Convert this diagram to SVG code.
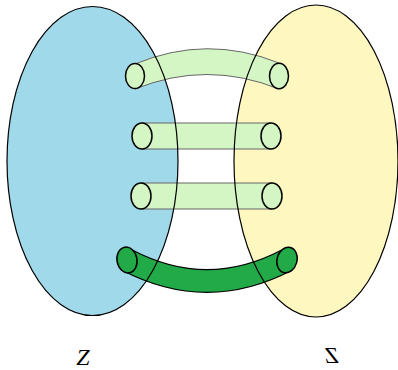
<svg xmlns="http://www.w3.org/2000/svg" width="398" height="370" viewBox="0 0 398 370">
<style>
.set-outline{fill:none;stroke:#000;stroke-width:1.2}
.lt{fill:#d4f6c4}
.ledge{fill:none;stroke:#666;stroke-width:1}
.lcap{fill:#d4f6c4;stroke:#000;stroke-width:1.5}
.dcap{fill:#22aa48;stroke:#000;stroke-width:1.5}
.lbl{font-family:"Liberation Serif","Times New Roman",serif;font-style:italic;font-size:24px;fill:#000}
</style>
<rect width="398" height="370" fill="#fff"/>
<g id="set-left-fill"><ellipse cx="92.5" cy="161" rx="85.5" ry="154.5" fill="#a0d9ea"/></g>
<g id="set-right-fill"><ellipse cx="316" cy="161" rx="82" ry="156" fill="#fff7c0"/></g>
<g id="connectors">
  <g id="tube1">
    <path class="lt" d="M135,64 Q207,34 279,63 L279,89 Q207,60 135,89 Z"/>
    <path class="ledge" d="M135,64 Q207,34 279,63"/>
    <path class="ledge" d="M135,89 Q207,60 279,89"/>
    <ellipse class="lcap" cx="135" cy="76" rx="9.5" ry="12.5"/>
    <ellipse class="lcap" cx="279" cy="76" rx="9.5" ry="12.8"/>
  </g>
  <g id="tube2">
    <rect class="lt" x="142" y="123" width="129" height="26"/>
    <path class="ledge" d="M142,123 H271 M142,149 H271"/>
    <ellipse class="lcap" cx="142" cy="136" rx="10" ry="13"/>
    <ellipse class="lcap" cx="271" cy="136" rx="10" ry="13"/>
  </g>
  <g id="tube3">
    <rect class="lt" x="141" y="183" width="131" height="26"/>
    <path class="ledge" d="M141,183 H272 M141,209 H272"/>
    <ellipse class="lcap" cx="141" cy="196" rx="10" ry="13"/>
    <ellipse class="lcap" cx="272" cy="196" rx="10" ry="13"/>
  </g>
  <g id="tube4">
    <path d="M127,260 Q207,302 287,260" fill="none" stroke="#000" stroke-width="24"/>
    <path d="M127,260 Q207,302 287,260" fill="none" stroke="#22aa48" stroke-width="21.5"/>
    <ellipse class="dcap" cx="127" cy="260" rx="10" ry="13" transform="rotate(-10 127 260)"/>
    <ellipse class="dcap" cx="287" cy="260" rx="10" ry="13" transform="rotate(15 287 260)"/>
  </g>
</g>
<g id="set-left"><ellipse class="set-outline" cx="92.5" cy="161" rx="85.5" ry="154.5"/><text class="lbl" x="83" y="365" text-anchor="middle">Z</text></g>
<g id="set-right"><ellipse class="set-outline" cx="316" cy="161" rx="82" ry="156"/><text class="lbl" transform="translate(332,363) scale(-1,1)" x="0" y="0" text-anchor="middle">Z</text></g>
</svg>
